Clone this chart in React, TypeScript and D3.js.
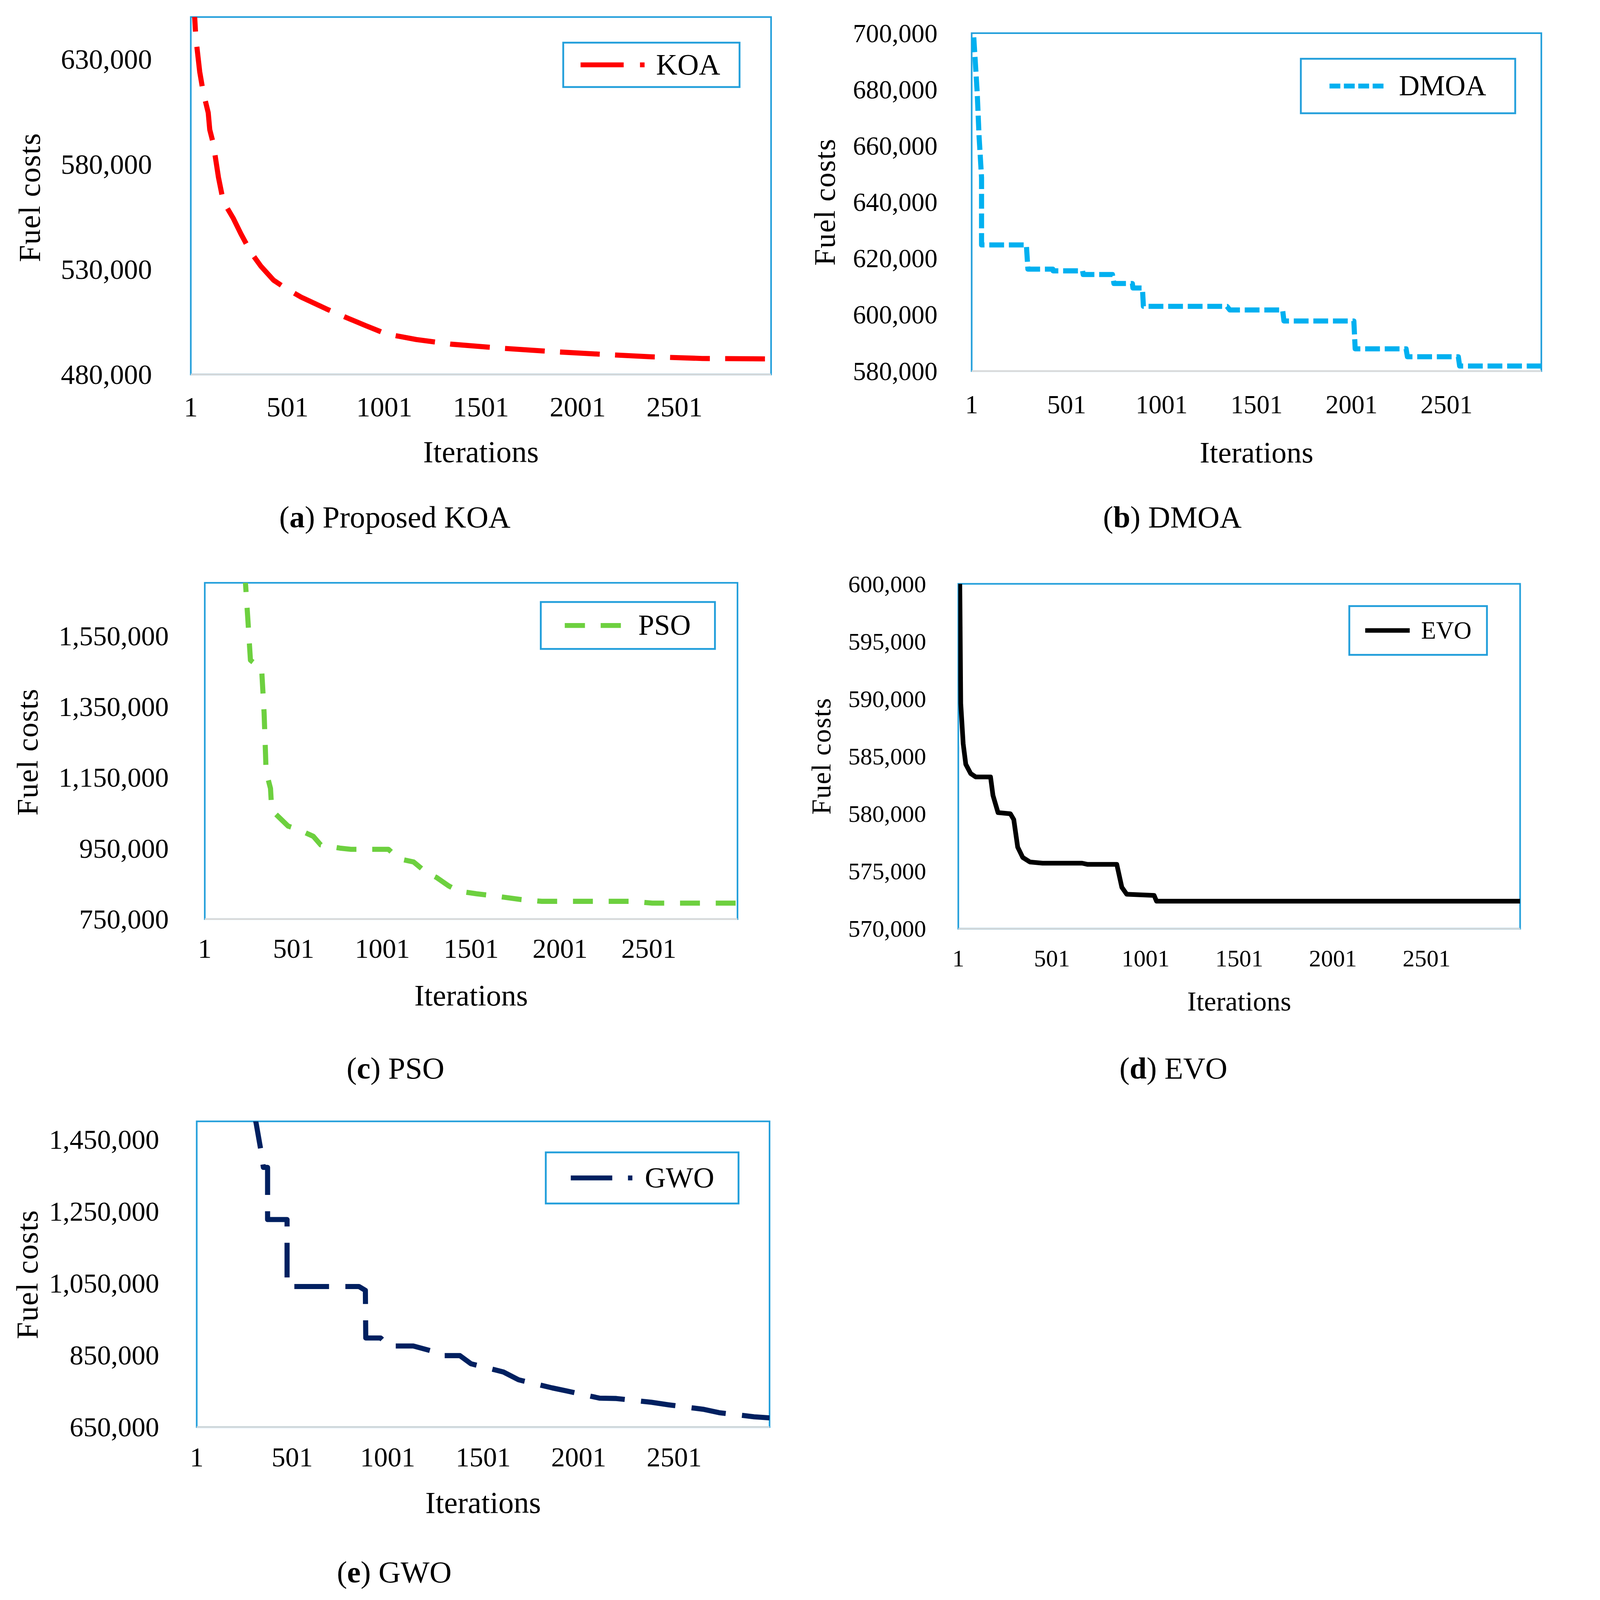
import * as d3 from "d3";

// ---- data ----
const xTickLabels = [1, 501, 1001, 1501, 2001, 2501];
const iterDomain: [number, number] = [1, 3000];

const koaIter = [15, 21, 27, 47, 65, 91, 99, 117, 144, 169, 221, 260, 312, 364, 428, 493, 571, 701, 804, 908, 1011, 1167, 1348, 1607, 1866, 2125, 2384, 2644, 3000];
const koaCost = [662000, 650000, 640200, 624000, 614300, 604500, 596400, 589900, 573700, 562300, 554200, 546900, 538000, 531400, 524900, 520900, 516800, 511200, 507100, 503100, 499300, 496600, 494400, 492500, 490900, 489600, 488400, 487600, 487400];
const koaTicks = [480000, 530000, 580000, 630000];

const dmoaIter = [12, 30, 40, 53, 53, 289, 297, 428, 430, 585, 588, 742, 750, 847, 850, 900, 905, 1345, 1360, 1638, 1645, 2013, 2020, 2288, 2295, 2563, 2570, 3000];
const dmoaCost = [698500, 679000, 663300, 648700, 624800, 624800, 616200, 616200, 615600, 615600, 614300, 614300, 611100, 611100, 609500, 609500, 603000, 603000, 601700, 601700, 597800, 597800, 587900, 587900, 585100, 585100, 581800, 581800];
const dmoaTicks = [580000, 600000, 620000, 640000, 660000, 680000, 700000];

const psoIter = [225, 230, 244, 258, 321, 335, 343, 346, 371, 377, 400, 470, 527, 612, 654, 767, 824, 1035, 1091, 1177, 1247, 1305, 1374, 1431, 1530, 1615, 1784, 1898, 2406, 2520, 3000];
const psoCost = [1730000, 1700000, 1592700, 1481500, 1457300, 1331700, 1215900, 1167300, 1119100, 1066000, 1046900, 1012800, 1003300, 983900, 959700, 950100, 947300, 947300, 921000, 911400, 882300, 867800, 843900, 829100, 821600, 816700, 805200, 800300, 800300, 795300, 795300];
const psoTicks = [750000, 950000, 1150000, 1350000, 1550000];

const evoIter = [8, 9, 14, 27, 41, 67, 94, 173, 186, 213, 279, 297, 318, 345, 384, 451, 662, 689, 847, 874, 900, 1046, 1059, 3000];
const evoCost = [601000, 600000, 589600, 586100, 584300, 583500, 583200, 583200, 581600, 580100, 580000, 579500, 577100, 576200, 575800, 575700, 575700, 575600, 575600, 573600, 573000, 572900, 572400, 572400];
const evoTicks = [570000, 575000, 580000, 585000, 590000, 595000, 600000];

const gwoIter = [303, 308, 313, 335, 350, 372, 372, 474, 474, 850, 884, 886, 964, 1005, 1135, 1227, 1266, 1379, 1437, 1607, 1686, 1862, 1941, 2111, 2198, 2381, 2473, 2657, 2736, 2919, 3000];
const gwoCost = [1520000, 1505000, 1492000, 1425000, 1372000, 1372000, 1227000, 1227000, 1040800, 1040800, 1030000, 897700, 897700, 875400, 875400, 862000, 848600, 848600, 826000, 803000, 781400, 758900, 750000, 730300, 729400, 718900, 711700, 699100, 690000, 678600, 675500];
const gwoTicks = [650000, 850000, 1050000, 1250000, 1450000];

// ---- layout (reference overview units, scaled up by the viewBox) ----
const VB_W = 1530;
const VB_H = 1568.1;
const FONT = "'Liberation Serif', 'Times New Roman', serif";
const FRAME = "#239fdb";
const AXIS = "#d9d9d9";

type Sample = "dashdot" | "dash" | "sysdash" | "solid";

interface PanelSpec {
  id: string;
  name: string;
  letter: string;
  caption: string;
  iter: number[];
  cost: number[];
  yDomain: [number, number];
  yTicks: number[];
  color: string;
  lineWidth: number;
  dash: string;
  sample: Sample;
  plot: { x0: number; x1: number; y0: number; y1: number };
  legend: { x0: number; x1: number; y0: number; y1: number; s0: number; s1: number; tx: number };
  tickFont: number;
  titleFont: number;
  legendFont: number;
  tickGap: number;
  xLabelDy: number;
  xTitleY: number;
  yTitleX: number;
  yTitleY: number;
  capX: number;
  capY: number;
}

const panels: PanelSpec[] = [
  {
    id: "a", name: "KOA", letter: "a", caption: " Proposed KOA",
    iter: koaIter, cost: koaCost, yDomain: [480000, 650000], yTicks: koaTicks,
    color: "#ff0000", lineWidth: 5, dash: "39 15", sample: "dashdot",
    plot: { x0: 187, x1: 755.7, y0: 16.7, y1: 367 },
    legend: { x0: 552, x1: 724.8, y0: 41.8, y1: 85.3, s0: 569, s1: 633, tx: 643 },
    tickFont: 27.5, titleFont: 30, legendFont: 29,
    tickGap: 38, xLabelDy: 41, xTitleY: 453, yTitleX: 39, yTitleY: 193.5, capX: 387, capY: 517,
  },
  {
    id: "b", name: "DMOA", letter: "b", caption: " DMOA",
    iter: dmoaIter, cost: dmoaCost, yDomain: [580000, 700000], yTicks: dmoaTicks,
    color: "#00b0f0", lineWidth: 5, dash: "14.5 4.7", sample: "sysdash",
    plot: { x0: 952.3, x1: 1510.6, y0: 32.5, y1: 363.7 },
    legend: { x0: 1274.9, x1: 1485, y0: 57.6, y1: 111, s0: 1303, s1: 1356, tx: 1371 },
    tickFont: 25.5, titleFont: 29.5, legendFont: 28,
    tickGap: 33.5, xLabelDy: 41.2, xTitleY: 453.4, yTitleX: 818, yTitleY: 198, capX: 1149, capY: 517,
  },
  {
    id: "c", name: "PSO", letter: "c", caption: " PSO",
    iter: psoIter, cost: psoCost, yDomain: [750000, 1700000], yTicks: psoTicks,
    color: "#6dd03f", lineWidth: 5, dash: "19.5 15.5", sample: "dash",
    plot: { x0: 200.7, x1: 722.8, y0: 571.2, y1: 900.8 },
    legend: { x0: 530, x1: 700.7, y0: 590, y1: 636, s0: 553.5, s1: 608.5, tx: 625.6 },
    tickFont: 27, titleFont: 29.5, legendFont: 28,
    tickGap: 35.3, xLabelDy: 37.8, xTitleY: 985.4, yTitleX: 36.8, yTitleY: 737, capX: 387.6, capY: 1057,
  },
  {
    id: "d", name: "EVO", letter: "d", caption: " EVO",
    iter: evoIter, cost: evoCost, yDomain: [570000, 600000], yTicks: evoTicks,
    color: "#000000", lineWidth: 4.6, dash: "none", sample: "solid",
    plot: { x0: 939.2, x1: 1489.8, y0: 572.2, y1: 910.2 },
    legend: { x0: 1322.4, x1: 1457.3, y0: 594, y1: 641.8, s0: 1338, s1: 1381.6, tx: 1392.8 },
    tickFont: 23.5, titleFont: 27, legendFont: 24,
    tickGap: 31.5, xLabelDy: 36.8, xTitleY: 990.5, yTitleX: 814, yTitleY: 741, capX: 1150, capY: 1057,
  },
  {
    id: "e", name: "GWO", letter: "e", caption: " GWO",
    iter: gwoIter, cost: gwoCost, yDomain: [650000, 1500000], yTicks: gwoTicks,
    color: "#002060", lineWidth: 5, dash: "34 16", sample: "dashdot",
    plot: { x0: 192.8, x1: 754.2, y0: 1099, y1: 1398.6 },
    legend: { x0: 534.9, x1: 723.8, y0: 1129.4, y1: 1179.5, s0: 559.4, s1: 621, tx: 632 },
    tickFont: 27, titleFont: 30, legendFont: 28.5,
    tickGap: 36.8, xLabelDy: 38.6, xTitleY: 1482.6, yTitleX: 36.8, yTitleY: 1249, capX: 386.4, capY: 1551,
  },
];

const fmt = d3.format(",");

function sampleDash(s: Sample, len: number): string {
  if (s === "dashdot") return `${len * 0.66} ${len * 0.25} ${len * 0.07} 80`;
  if (s === "dash") return `${len * 0.36} ${len * 0.28}`;
  if (s === "sysdash") return `${len * 0.2} ${len * 0.066}`;
  return "none";
}

function Panel({ p }: { p: PanelSpec }) {
  const { plot, legend } = p;
  const x = d3.scaleLinear().domain(iterDomain).range([plot.x0, plot.x1]);
  const y = d3.scaleLinear().domain(p.yDomain).range([plot.y1, plot.y0]);
  const pts = p.iter.map((it, i) => [it, p.cost[i]] as [number, number]);
  const line = d3
    .line<[number, number]>()
    .x((d) => x(d[0]))
    .y((d) => y(d[1]));
  const legendY = (legend.y0 + legend.y1) / 2;
  const clipId = `clip-${p.id}`;

  return (
    <g>
      <defs>
        <clipPath id={clipId}>
          <rect x={plot.x0} y={plot.y0} width={plot.x1 - plot.x0} height={plot.y1 - plot.y0} />
        </clipPath>
      </defs>

      {/* plot frame: blue on three sides, grey category axis at the bottom */}
      <rect
        x={plot.x0}
        y={plot.y0}
        width={plot.x1 - plot.x0}
        height={plot.y1 - plot.y0}
        fill="none"
        stroke={FRAME}
        strokeWidth={1.6}
      />
      <line x1={plot.x0} x2={plot.x1} y1={plot.y1} y2={plot.y1} stroke={AXIS} strokeWidth={1.6} />

      {/* series */}
      <path
        d={line(pts) ?? ""}
        fill="none"
        stroke={p.color}
        strokeWidth={p.lineWidth}
        strokeDasharray={p.dash}
        strokeLinejoin="round"
        clipPath={`url(#${clipId})`}
      />

      {/* y tick labels */}
      {p.yTicks.map((t) => (
        <text
          key={t}
          x={plot.x0 - p.tickGap}
          y={y(t) + p.tickFont * 0.34}
          textAnchor="end"
          fontSize={p.tickFont}
          fontFamily={FONT}
          fill="#000"
        >
          {fmt(t)}
        </text>
      ))}

      {/* x tick labels */}
      {xTickLabels.map((t) => (
        <text
          key={t}
          x={x(t)}
          y={plot.y1 + p.xLabelDy}
          textAnchor="middle"
          fontSize={p.tickFont}
          fontFamily={FONT}
          fill="#000"
        >
          {t}
        </text>
      ))}

      {/* axis titles */}
      <text
        x={(plot.x0 + plot.x1) / 2}
        y={p.xTitleY}
        textAnchor="middle"
        fontSize={p.titleFont}
        fontFamily={FONT}
        fill="#000"
      >
        Iterations
      </text>
      <text
        transform={`translate(${p.yTitleX},${p.yTitleY}) rotate(-90)`}
        textAnchor="middle"
        fontSize={p.titleFont}
        fontFamily={FONT}
        letterSpacing={0.6}
        fill="#000"
      >
        Fuel costs
      </text>

      {/* legend */}
      <rect
        x={legend.x0}
        y={legend.y0}
        width={legend.x1 - legend.x0}
        height={legend.y1 - legend.y0}
        fill="#fff"
        stroke={FRAME}
        strokeWidth={1.8}
      />
      <line
        x1={legend.s0}
        x2={legend.s1}
        y1={legendY}
        y2={legendY}
        stroke={p.color}
        strokeWidth={p.lineWidth * 0.95}
        strokeDasharray={sampleDash(p.sample, legend.s1 - legend.s0)}
      />
      <text
        x={legend.tx}
        y={legendY + p.legendFont * 0.33}
        fontSize={p.legendFont}
        fontFamily={FONT}
        fill="#000"
      >
        {p.name}
      </text>

      {/* caption */}
      <text x={p.capX} y={p.capY} textAnchor="middle" fontSize={30} fontFamily={FONT} fill="#000">
        (<tspan fontWeight="bold">{p.letter}</tspan>){p.caption}
      </text>
    </g>
  );
}

export default function App() {
  return (
    <div
      style={{
        position: "fixed",
        left: 0,
        top: 0,
        width: "100%",
        height: "100%",
        background: "#fff",
        overflow: "hidden",
      }}
    >
      <svg
        width="100%"
        height="100%"
        viewBox={`0 0 ${VB_W} ${VB_H}`}
        preserveAspectRatio="xMinYMin meet"
        style={{ display: "block", background: "#fff" }}
      >
        {panels.map((p) => (
          <Panel key={p.id} p={p} />
        ))}
      </svg>
    </div>
  );
}
